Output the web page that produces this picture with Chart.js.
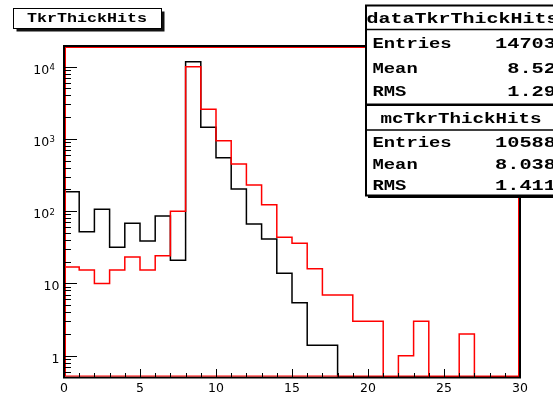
<!DOCTYPE html>
<html>
<head>
<meta charset="utf-8">
<script src="https://cdn.jsdelivr.net/npm/chart.js@4/dist/chart.umd.min.js"></script>
<style>
  html, body { margin: 0; padding: 0; background: #fff; overflow: hidden; }
  canvas { display: block; }
</style>
</head>
<body>
<canvas id="c" width="553" height="393"></canvas>
<script>
// TkrThickHits: counts per unit-wide bin, bins 0..29
const dataCounts = [186, 52, 106, 31.6, 68, 38.7, 86, 21, 11700, 1450,
                    551, 203, 66.5, 41.2, 13.8, 5.4, 1.4, 1.4, 0, 0,
                    0, 0, 0, 0, 0, 0, 0, 0, 0, 0];
const mcCounts   = [16.9, 15.3, 10, 15.3, 23.2, 15.3, 24.2, 100, 10000, 2570,
                    946, 450, 231, 123, 43.5, 35.9, 16, 6.9, 6.9, 3.0,
                    3.0, 0, 1.0, 3.0, 0, 0, 2.0, 0, 0, 0];

const xTickLabels = ['0', '5', '10', '15', '20', '25', '30'];
const xTickValues = [0, 5, 10, 15, 20, 25, 30];
const yDecadeValues = [1, 10, 100, 1000, 10000];
const yDecadeExponents = [0, 1, 2, 3, 4];

const histTitle = 'TkrThickHits';
const statLabels = ['Entries', 'Mean', 'RMS'];
const dataStatName = 'dataTkrThickHits';
const dataStatValues = ['14703', '8.52', '1.29'];
const mcStatName = 'mcTkrThickHits';
const mcStatValues = ['10588', '8.038', '1.411'];

const X_MIN = 0, X_MAX = 30;
const Y_MIN = 0.507, Y_MAX = 19340;

// Step outline of a histogram: one point per bin left edge plus the closing edge.
// Empty bins sit on the frame floor, as on a log axis.
function histPoints(counts) {
  const pts = [{ x: 0, y: Y_MIN }];
  counts.forEach((v, i) => pts.push({ x: i, y: v > 0 ? v : Y_MIN }));
  const last = counts[counts.length - 1];
  pts.push({ x: counts.length, y: last > 0 ? last : Y_MIN });
  return pts;
}

function monoText(ctx, txt, x, y, size, adv, align) {
  ctx.font = 'bold ' + size + 'px "Liberation Mono"';
  const w = ctx.measureText(txt).width;
  const sx = (adv * txt.length) / w;
  ctx.save();
  ctx.translate(x, y);
  ctx.scale(sx, 1);
  ctx.textAlign = align;
  ctx.textBaseline = 'alphabetic';
  ctx.fillStyle = '#000';
  ctx.fillText(txt, 0, 0);
  ctx.restore();
}

const rootStyle = {
  id: 'rootStyle',
  beforeDraw(chart) {
    const ctx = chart.ctx;
    ctx.save();
    ctx.fillStyle = '#fff';
    ctx.fillRect(0, 0, chart.width, chart.height);
    ctx.restore();
  },
  afterDatasetsDraw(chart) {
    const ctx = chart.ctx;
    const a = chart.chartArea;
    const xs = chart.scales.x, ys = chart.scales.y;
    ctx.save();
    // frame
    ctx.strokeStyle = '#000';
    ctx.lineWidth = 2;
    ctx.strokeRect(a.left, a.top, a.right - a.left, a.bottom - a.top + 0.5);
    ctx.strokeStyle = '#ff0000';
    ctx.lineWidth = 1;
    ctx.strokeRect(a.left + 1.5, a.top + 1.5, a.right - a.left - 3, a.bottom - a.top - 2.5);

    // y ticks (log, inward)
    ctx.strokeStyle = '#000';
    ctx.lineWidth = 1;
    ctx.beginPath();
    for (let k = -1; k <= 5; k++) {
      for (let m = 1; m <= 9; m++) {
        const v = m * Math.pow(10, k);
        if (v < ys.min || v > ys.max) continue;
        const py = Math.round(ys.getPixelForValue(v)) + 0.5;
        const len = m === 1 ? 13 : 7;
        ctx.moveTo(a.left, py);
        ctx.lineTo(a.left + len, py);
      }
    }
    // x ticks (inward)
    for (let i = X_MIN; i <= X_MAX; i++) {
      const px = Math.round(xs.getPixelForValue(i)) + 0.5;
      const len = i % 5 === 0 ? 8 : 4;
      ctx.moveTo(px, a.bottom);
      ctx.lineTo(px, a.bottom - len);
    }
    ctx.stroke();

    // tick labels
    ctx.fillStyle = '#000';
    ctx.font = '12.5px "DejaVu Sans"';
    ctx.textBaseline = 'alphabetic';
    ctx.textAlign = 'center';
    xTickValues.forEach((v, i) => {
      ctx.fillText(xTickLabels[i], xs.getPixelForValue(v), 392);
    });
    yDecadeValues.forEach((v, i) => {
      const py = ys.getPixelForValue(v);
      const e = yDecadeExponents[i];
      if (e <= 1) {
        ctx.font = '12.5px "DejaVu Sans"';
        ctx.textAlign = 'right';
        ctx.fillText(String(v), 59.5, py + 7);
      } else {
        ctx.font = '8.5px "DejaVu Sans"';
        ctx.textAlign = 'right';
        ctx.fillText(String(e), 55, py + 3.5);
        const ew = ctx.measureText(String(e)).width;
        ctx.font = '12.5px "DejaVu Sans"';
        ctx.fillText('10', 55 - ew - 0.5, py + 7);
      }
    });
    ctx.restore();
  },
  afterDraw(chart) {
    const ctx = chart.ctx;
    ctx.save();
    // title box
    ctx.fillStyle = '#111';
    ctx.fillRect(16.5, 11.5, 148, 20);
    ctx.fillStyle = '#fff';
    ctx.fillRect(13.5, 8.5, 148, 20);
    ctx.strokeStyle = '#000';
    ctx.lineWidth = 1;
    ctx.strokeRect(13.5, 8.5, 148, 20);
    monoText(ctx, histTitle, 87, 21.7, 12.5, 10.0, 'center');

    // statistics boxes
    ctx.fillStyle = '#000';
    ctx.fillRect(368, 196, 200, 2);
    ctx.fillStyle = '#fff';
    ctx.fillRect(366, 5.5, 200, 190);
    ctx.strokeStyle = '#000';
    ctx.lineWidth = 2;
    ctx.strokeRect(366, 5.5, 200, 99);
    ctx.strokeRect(366, 105, 200, 90.5);
    ctx.lineWidth = 1.5;
    ctx.beginPath();
    ctx.moveTo(366, 29.5); ctx.lineTo(560, 29.5);
    ctx.moveTo(366, 130); ctx.lineTo(560, 130);
    ctx.stroke();

    monoText(ctx, dataStatName, 366.5, 22.7, 15.5, 12.0, 'left');
    const rowsA = [48.3, 72.7, 96];
    statLabels.forEach((s, i) => {
      monoText(ctx, s, 372.5, rowsA[i], 14.5, 11.3, 'left');
      monoText(ctx, dataStatValues[i], 556, rowsA[i], 14.5, 12.2, 'right');
    });
    monoText(ctx, mcStatName, 380.5, 123.3, 14.5, 11.5, 'left');
    const rowsB = [146.7, 169, 190];
    statLabels.forEach((s, i) => {
      monoText(ctx, s, 372.5, rowsB[i], 14.5, 11.3, 'left');
      monoText(ctx, mcStatValues[i], 556, rowsB[i], 14.5, 12.2, 'right');
    });
    ctx.restore();
  }
};

new Chart(document.getElementById('c'), {
  type: 'line',
  data: {
    datasets: [
      {
        label: 'mcTkrThickHits',
        data: histPoints(mcCounts),
        borderColor: '#ff0000',
        borderWidth: 1.5,
        pointRadius: 0,
        fill: false,
        stepped: 'before'
      },
      {
        label: 'dataTkrThickHits',
        data: histPoints(dataCounts),
        borderColor: '#000000',
        borderWidth: 1.5,
        pointRadius: 0,
        fill: false,
        stepped: 'before'
      }
    ]
  },
  options: {
    responsive: false,
    devicePixelRatio: 1,
    animation: false,
    events: [],
    layout: { padding: { left: 64, right: 33, top: 46, bottom: 16 } },
    plugins: { legend: { display: false }, tooltip: { enabled: false }, title: { display: false } },
    scales: {
      x: { type: 'linear', min: X_MIN, max: X_MAX, display: false },
      y: { type: 'logarithmic', min: Y_MIN, max: Y_MAX, bounds: 'data', display: false }
    }
  },
  plugins: [rootStyle]
});
</script>
</body>
</html>
